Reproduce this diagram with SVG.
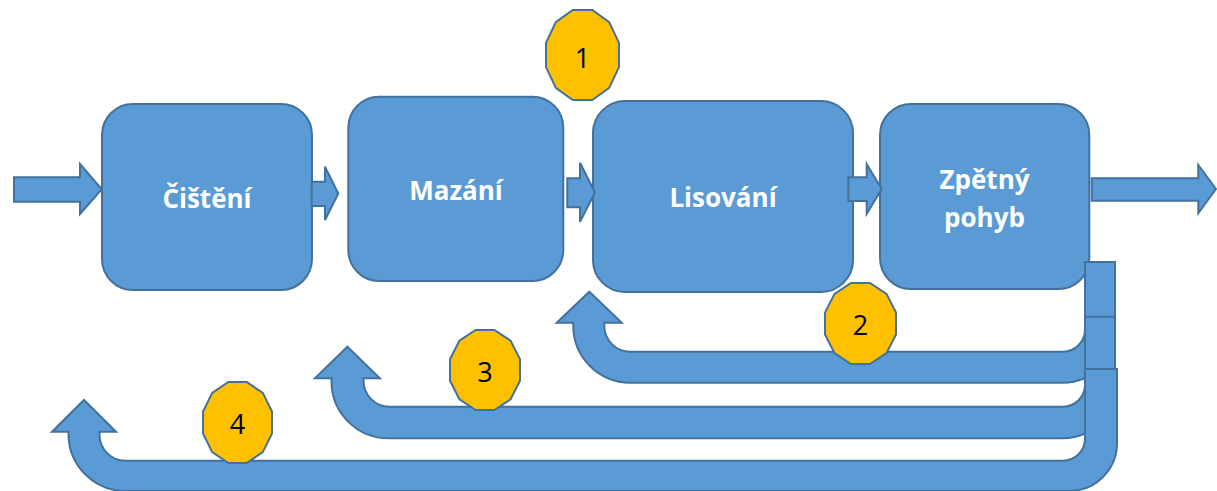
<svg xmlns="http://www.w3.org/2000/svg" width="1217" height="491" viewBox="0 0 1217 491">
  <style>
    .box { fill: #5B9BD5; stroke: #41719C; stroke-width: 2; }
    .lbl { fill: #FFFFFF; font-family: "Open Sans", "Noto Sans", "Liberation Sans", sans-serif; font-weight: bold; font-size: 26px; text-anchor: middle; }
    .arr { fill: #5B9BD5; stroke: #41719C; stroke-width: 2; stroke-linejoin: miter; }
    .badge { fill: #FFC000; stroke: #41719C; stroke-width: 2; }
    .num { fill: #000000; font-family: "Open Sans", "Noto Sans", "Liberation Sans", sans-serif; font-size: 27px; text-anchor: middle; }
  </style>
  <rect width="1217" height="491" fill="#FFFFFF"/>

  <g id="node-cisteni">
    <rect class="box" x="102" y="104" width="210" height="186" rx="31" ry="31"/>
    <text class="lbl" x="207" y="208">Čištění</text>
  </g>
  <g id="node-mazani">
    <rect class="box" x="348.3" y="96.7" width="215" height="184.3" rx="31" ry="31"/>
    <text class="lbl" x="456" y="200">Mazání</text>
  </g>
  <g id="node-lisovani">
    <rect class="box" x="593" y="101" width="260" height="191" rx="32" ry="32"/>
    <text class="lbl" x="723" y="206.5">Lisování</text>
  </g>
  <g id="node-zpetny">
    <rect class="box" x="880" y="104" width="209.3" height="185" rx="31" ry="31"/>
    <text class="lbl" x="984.5" y="189.3">Zpětný</text>
    <text class="lbl" x="984.5" y="226.5">pohyb</text>
  </g>

  <g id="connectors">
    <path class="arr" d="M14,177.3 L80,177.3 L80,164 L101.7,189.3 L80,214 L80,201.7 L14,201.7 Z"/>
    <path class="arr" d="M311.7,181.7 L325,181.7 L325,166.7 L338.3,193.5 L325,220 L325,206 L311.7,206 Z"/>
    <path class="arr" d="M567.3,178.3 L580,178.3 L580,162.7 L595,192.5 L580,221.7 L580,207.3 L567.3,207.3 Z"/>
    <path class="arr" d="M848.3,177.3 L866.7,177.3 L866.7,164 L881.7,189 L866.7,214 L866.7,201 L848.3,201 Z"/>
    <path class="arr" d="M1091.7,178.3 L1198.3,178.3 L1198.3,165 L1216,189 L1198.3,213.3 L1198.3,200.7 L1091.7,200.7 Z"/>
    <path id="return-2" class="arr" d="M589.3,291.7 L621.7,322.7 L604.3,322.7 L604.3,325.7 A26,26 0 0 0 630.3,351.7 L1063,351.7 A22,22 0 0 0 1085,329.7 L1085,262 L1115,262 L1115,330.7 A52,52 0 0 1 1063,382.7 L630.3,382.7 A57,57 0 0 1 573.3,325.7 L573.3,322.7 L556.7,322.7 Z"/>
    <path id="return-3" class="arr" d="M347.4,346.7 L379.8,378.3 L363.5,378.3 L363.5,380.7 A26,26 0 0 0 389.5,406.7 L1063,406.7 A22,22 0 0 0 1085,384.7 L1085,316.7 L1115,316.7 L1115,386.3 A52,52 0 0 1 1063,438.3 L388.5,438.3 A57,57 0 0 1 331.5,381.3 L331.5,378.3 L315,378.3 Z"/>
    <path id="return-4" class="arr" d="M84,400 L116,431.7 L99.5,431.7 L99.5,434.7 A26,26 0 0 0 125.5,460.7 L1063,460.7 A22,22 0 0 0 1085,438.7 L1085,369 L1117,369 L1117,443 A48,48 0 0 1 1069,491 L125.5,491 A57,57 0 0 1 68.5,434 L68.5,431.7 L52,431.7 Z"/>
  </g>

  <g id="badge-1">
    <polygon class="badge" points="546,42.9 555.8,22.1 572.7,10 592.3,10 609.2,22.1 619,42.9 619,67.1 609.2,87.9 592.3,100 572.7,100 555.8,87.9 546,67.1"/>
    <text class="num" x="582.5" y="67.5">1</text>
  </g>
  <g id="badge-2">
    <polygon class="badge" points="825,312.6 834.5,293.9 851,283 870,283 886.5,293.9 896,312.6 896,334.4 886.5,353.1 870,364 851,364 834.5,353.1 825,334.4"/>
    <text class="num" x="860.5" y="335">2</text>
  </g>
  <g id="badge-3">
    <polygon class="badge" points="450,359.3 459.4,340.7 475.6,330 494.4,330 510.6,340.7 520,359.3 520,380.7 510.6,399.3 494.4,410 475.6,410 459.4,399.3 450,380.7"/>
    <text class="num" x="485" y="381.5">3</text>
  </g>
  <g id="badge-4">
    <polygon class="badge" points="203,411.6 212.2,392.9 228.3,382 246.7,382 262.8,392.9 272,411.6 272,433.4 262.8,452.1 246.7,463 228.3,463 212.2,452.1 203,433.4"/>
    <text class="num" x="237.5" y="434">4</text>
  </g>
</svg>
